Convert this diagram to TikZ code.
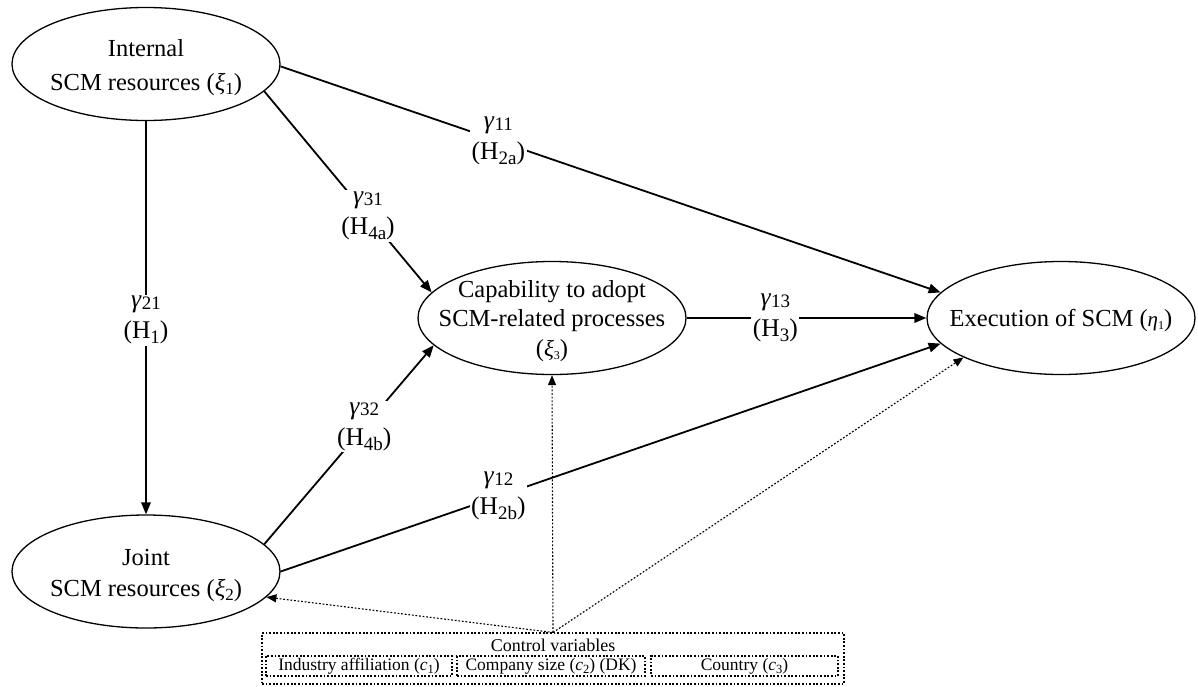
\documentclass[tikz,border=0pt]{standalone}
\usepackage{fontspec}
\setmainfont{Liberation Serif}
\usetikzlibrary{shapes.geometric,arrows.meta,calc}
\newcommand{\gsub}[1]{\raisebox{-1.5pt}{\fontsize{19}{19}\selectfont #1}}
\newcommand{\hsub}[1]{\raisebox{-5pt}{\fontsize{19}{19}\selectfont #1}}
\newcommand{\xsub}[1]{\raisebox{-4pt}{\fontsize{17}{17}\selectfont #1}}
\newcommand{\tsub}[1]{\raisebox{-3pt}{\fontsize{12}{12}\selectfont #1}}
\newcommand{\csub}[1]{\raisebox{-3pt}{\fontsize{12.5}{12.5}\selectfont #1}}
\begin{document}
\begin{tikzpicture}[x=1pt,y=-1pt,
  ell/.style={draw,ellipse,line width=1.3pt,minimum width=268pt,minimum height=113pt,inner sep=0pt},
  txt/.style={align=center,inner sep=0pt},
  arr/.style={line width=1.8pt,-{Triangle[length=12pt,width=9.5pt]}},
  lab/.style={fill=white,inner sep=1.5pt,align=center,font=\fontsize{25.5}{31}\selectfont},
  dotarr/.style={line width=1.1pt,dash pattern=on 1.8pt off 1.8pt,-{Triangle[length=10pt,width=8pt]}},
  cbox/.style={draw,line width=1.1pt,dash pattern=on 1.8pt off 1.8pt,inner sep=0pt},
  ctxt/.style={font=\fontsize{17.5}{17.5}\selectfont,text height=12pt,text depth=4pt}]

\useasboundingbox (0,0) rectangle (1198,686);

% latent variables
\node[ell] (int) at (146,64) {};
\node[txt,font=\fontsize{24.5}{34}\selectfont] (intt) at (146,68) {Internal\\SCM resources (\textit{ξ}\xsub{1})};

\node[ell] (joint) at (146,571.5) {};
\node[txt,font=\fontsize{24.5}{31}\selectfont] (jointt) at (146,575) {Joint\\SCM resources (\textit{ξ}\xsub{2})};

\node[ell] (cap) at (552,318) {};
\node[txt,font=\fontsize{24.5}{29.5}\selectfont] (capt) at (552,321) {Capability to adopt\\SCM-related processes\\({\fontsize{23}{23}\selectfont\textit{ξ}}\tsub{3})};

\node[ell] (exec) at (1061,318) {};
\node[txt,font=\fontsize{24.5}{29}\selectfont] (exect) at (1061,320) {Execution of SCM ({\fontsize{21}{21}\selectfont\textit{η}}\tsub{1})};

% paths
\draw[arr] (int.south) -- node[lab,pos=0.506] {\textit{γ}\gsub{21}\\(H\hsub{1})} (joint.north);
\draw[arr] (int.-13.7) -- node[lab,pos=0.62] {\textit{γ}\gsub{31}\\(H\hsub{4a})} (cap.168);
\draw[arr] (int.-1) -- node[lab,pos=0.33] {\textit{γ}\gsub{11}\\(H\hsub{2a})} (exec.168);
\draw[arr] (cap.east) -- node[lab,pos=0.37] {\textit{γ}\gsub{13}\\(H\hsub{3})} (exec.west);
\draw[arr] (joint.13.7) -- node[lab,pos=0.59] {\textit{γ}\gsub{32}\\(H\hsub{4b})} (cap.-167.4);
\draw[arr] (joint.0) -- node[lab,pos=0.33] {\textit{γ}\gsub{12}\\(H\hsub{2b})} (exec.-168);

% control variables
\node[cbox,minimum width=582pt,minimum height=51pt] (ctrl) at (553,658.5) {};
\node[font=\fontsize{18}{18}\selectfont,inner sep=0pt] (ctit) at (553,645) {Control variables};
\node[cbox,ctxt,minimum width=186pt,minimum height=20pt] (c1) at (359,666) {Industry affiliation (\textit{c}\csub{1})};
\node[cbox,ctxt,minimum width=188pt,minimum height=20pt] (c2) at (551,666) {Company size (\textit{c}\csub{2}) (DK)};
\node[cbox,ctxt,minimum width=187pt,minimum height=20pt] (c3) at (744.5,666) {Country (\textit{c}\csub{3})};

\coordinate (src) at (ctrl.north);
\draw[dotarr] (src) -- (joint.-12);
\draw[dotarr] (src) -- (cap.south);
\draw[dotarr] (src) -- (exec.-158);
\end{tikzpicture}
\end{document}
